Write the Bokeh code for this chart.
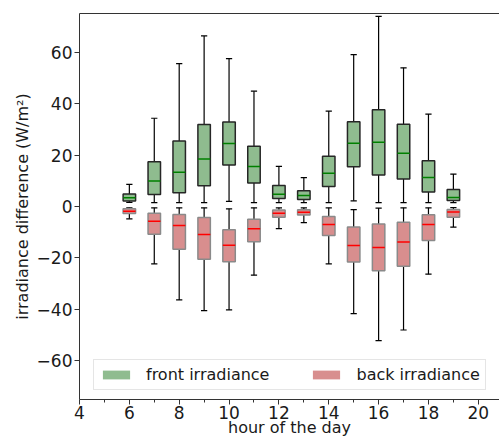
from bokeh.plotting import figure
from bokeh.models import (ColumnDataSource, FixedTicker, LinearAxis, Legend,
                          LegendItem, Range1d)
from bokeh.embed import file_html
from bokeh.resources import INLINE

# hourly irradiance-difference statistics (W/m^2)
hours = [6, 7, 8, 9, 10, 11, 12, 13, 14, 15, 16, 17, 18, 19]

front_whislo = [1.6, 1.5, 1.5, 1.5, 2.0, 1.5, 1.5, 1.5, 1.5, 2.2, 1.5, 1.5, 1.5, 1.5]
front_q1 = [2.1, 4.7, 5.3, 8.1, 16.1, 9.1, 3.1, 2.7, 7.8, 15.4, 12.2, 10.7, 5.6, 2.3]
front_med = [3.4, 9.9, 13.3, 18.5, 24.5, 15.5, 4.8, 4.3, 12.9, 24.6, 25.0, 20.7, 11.3, 3.5]
front_q3 = [4.9, 17.4, 25.5, 31.9, 32.8, 23.4, 8.2, 6.1, 19.5, 32.9, 37.6, 32.0, 17.8, 6.6]
front_whishi = [8.6, 34.3, 55.5, 66.3, 57.5, 44.8, 15.6, 11.2, 37.1, 59.0, 73.9, 53.9, 35.9, 12.6]

back_whishi = [-0.5, -0.5, -0.5, -0.5, -0.9, -0.5, -0.5, -0.5, -0.5, -1.2, -0.6, -0.5, -0.5, -0.4]
back_q3 = [-0.9, -2.6, -3.1, -4.3, -9.0, -5.0, -1.4, -1.3, -3.9, -8.0, -6.8, -6.1, -3.2, -1.2]
back_med = [-1.8, -5.7, -7.4, -10.9, -15.1, -8.6, -2.6, -2.2, -7.0, -15.2, -15.9, -13.8, -7.0, -2.1]
back_q1 = [-2.7, -10.8, -16.6, -20.5, -21.5, -13.7, -4.2, -3.3, -11.3, -21.6, -25.0, -23.2, -13.2, -4.2]
back_whislo = [-4.8, -22.3, -36.3, -40.5, -40.2, -26.7, -8.6, -6.3, -22.3, -41.6, -52.1, -48.0, -26.3, -8.0]

x_ticks = [4, 6, 8, 10, 12, 14, 16, 18, 20]
y_ticks = [-60, -40, -20, 0, 20, 40, 60]

FONT = "DejaVu Sans"
BOX_W = 0.5
CAP_W = 0.25


def box_source(lo, q1, med, q3, hi):
    return ColumnDataSource(dict(
        x=hours, lo=lo, q1=q1, med=med, q3=q3, hi=hi,
        left=[h - BOX_W / 2 for h in hours],
        right=[h + BOX_W / 2 for h in hours],
        cl=[h - CAP_W / 2 for h in hours],
        cr=[h + CAP_W / 2 for h in hours],
    ))


p = figure(width=499, height=439,
           x_range=Range1d(4, 20.85), y_range=Range1d(-75, 75),
           output_backend="svg", toolbar_location=None,
           min_border_left=79, min_border_right=0,
           min_border_top=13, min_border_bottom=0)
p.outline_line_color = None
p.grid.visible = False
p.background_fill_color = "white"
p.border_fill_color = "white"


def draw_boxes(src, fill, edge, median_color):
    # whiskers and caps
    p.segment(x0="x", y0="q3", x1="x", y1="hi", source=src,
              line_color="black", line_width=1.2)
    p.segment(x0="x", y0="q1", x1="x", y1="lo", source=src,
              line_color="black", line_width=1.2)
    p.segment(x0="cl", y0="hi", x1="cr", y1="hi", source=src,
              line_color="black", line_width=1.2)
    p.segment(x0="cl", y0="lo", x1="cr", y1="lo", source=src,
              line_color="black", line_width=1.2)
    # box body (fill only, used for legend) and outline
    body = p.quad(left="left", right="right", bottom="q1", top="q3", source=src,
                  fill_color=fill, line_color=None)
    p.quad(left="left", right="right", bottom="q1", top="q3", source=src,
           fill_color=None, line_color=edge, line_width=1.5)
    p.segment(x0="left", y0="med", x1="right", y1="med", source=src,
              line_color=median_color, line_width=1.5)
    return body


front = box_source(front_whislo, front_q1, front_med, front_q3, front_whishi)
back = box_source(back_whislo, back_q1, back_med, back_q3, back_whishi)

front_body = draw_boxes(front, "#8fbc8f", "#262626", "#008000")
back_body = draw_boxes(back, "#d88e8e", "#8a8a8a", "#ff0000")

# axes
AX_COLOR = "#333333"
xa = p.xaxis[0]
xa.ticker = FixedTicker(ticks=x_ticks, minor_ticks=list(range(5, 22, 2)))
xa.axis_label = "hour of the day"
ya = p.yaxis[0]
ya.ticker = FixedTicker(ticks=y_ticks, minor_ticks=[])
ya.axis_label = "irradiance difference (W/m²)"
ya.major_label_overrides = {t: ("\u2212" + str(-t) if t < 0 else str(t)) for t in y_ticks}

for ax in (xa, ya):
    ax.axis_line_color = AX_COLOR
    ax.axis_line_width = 1
    ax.major_tick_line_color = AX_COLOR
    ax.minor_tick_line_color = AX_COLOR
    ax.major_tick_out = 5
    ax.major_tick_in = 0
    ax.minor_tick_out = 3
    ax.minor_tick_in = 0
    ax.major_label_text_font = FONT
    ax.major_label_text_font_size = "17px"
    ax.major_label_text_color = "#1a1a1a"
    ax.axis_label_text_font = FONT
    ax.axis_label_text_font_size = "16px"
    ax.axis_label_text_font_style = "normal"
    ax.axis_label_text_color = "#1a1a1a"
    ax.major_label_standoff = 2
    ax.axis_label_standoff = 2

xa.major_label_standoff = 1
xa.axis_label_standoff = -4
xa.axis_label_text_baseline = "middle"

# top border line
top = LinearAxis(ticker=FixedTicker(ticks=[]), major_label_text_font_size="0px",
                 major_tick_out=0, major_tick_in=0, minor_tick_out=0, minor_tick_in=0,
                 major_label_standoff=0, axis_line_color=AX_COLOR, axis_line_width=1)
p.add_layout(top, "above")

legend = Legend(items=[LegendItem(label="front irradiance", renderers=[front_body]),
                       LegendItem(label="back irradiance", renderers=[back_body])],
                orientation="horizontal", location=(14, 9),
                glyph_width=34, glyph_height=11, label_standoff=13, spacing=40,
                padding=5, margin=0,
                border_line_color="#cccccc", border_line_width=1,
                background_fill_color="white", background_fill_alpha=0.8,
                label_text_font=FONT, label_text_font_size="16px",
                label_text_color="#1a1a1a")
p.add_layout(legend)

open("out.html", "w").write(file_html(p, INLINE))
